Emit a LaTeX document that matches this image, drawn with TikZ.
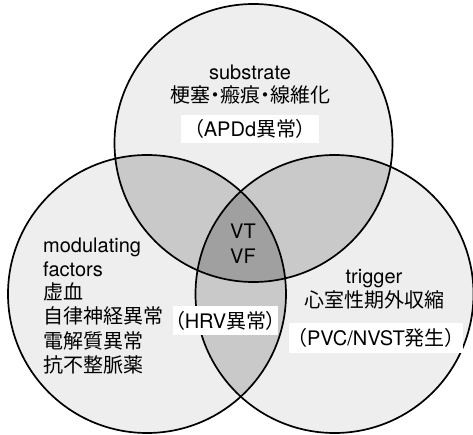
\documentclass[tikz,border=0pt]{standalone}
\usepackage{fontspec}
\setmainfont{TeX Gyre Heros}
\newfontfamily\jp[RawFeature=+palt]{Noto Sans CJK JP}
\definecolor{one}{HTML}{EEEEEE}
\definecolor{two}{HTML}{C9C9C9}
\definecolor{three}{HTML}{A0A0A0}
\begin{document}
\begin{tikzpicture}[x=1pt,y=-1pt,
  txt/.style={inner sep=0pt,font=\fontsize{20}{24.5}\selectfont,anchor=base},
  ltxt/.style={txt,anchor=base west},
  wbox/.style={fill=white,inner sep=0pt,font=\fontsize{20}{24.5}\selectfont},
  ring/.style={draw=black,line width=1.7pt}]
\useasboundingbox (0,0) rectangle (473,435);
\coordinate (cT) at (253.5,143);
\coordinate (cL) at (147,294);
\coordinate (cR) at (334.5,294);
\def\R{139pt}
% single regions
\fill[one] (cT) circle[radius=\R];
\fill[one] (cL) circle[radius=\R];
\fill[one] (cR) circle[radius=\R];
% pairwise
\begin{scope}\clip (cT) circle[radius=\R]; \fill[two] (cL) circle[radius=\R];\end{scope}
\begin{scope}\clip (cT) circle[radius=\R]; \fill[two] (cR) circle[radius=\R];\end{scope}
\begin{scope}\clip (cL) circle[radius=\R]; \fill[two] (cR) circle[radius=\R];\end{scope}
% triple
\begin{scope}\clip (cT) circle[radius=\R]; \clip (cL) circle[radius=\R]; \fill[three] (cR) circle[radius=\R];\end{scope}
% outlines
\draw[ring] (cT) circle[radius=\R];
\draw[ring] (cL) circle[radius=\R];
\draw[ring] (cR) circle[radius=\R];
% substrate
\node[txt] (sub) at (250,79.5) {substrate};
\node[txt] (subj) at (250,102.5) {\jp 梗塞・瘢痕・線維化};
\node[wbox,minimum width=138pt,minimum height=28.5pt] (apd) at (250,129) {{\jp （}APDd{\jp 異常）}};
% center
\node[txt] (vt) at (243,239) {VT};
\node[txt] (vf) at (243,264) {VF};
% modulating
\node[ltxt] (m1) at (43,252) {modulating};
\node[ltxt] (m2) at (43,276.5) {factors};
\node[ltxt] (m3) at (43,299) {\jp 虚血};
\node[ltxt] (m4) at (43,323.5) {\jp 自律神経異常};
\node[ltxt] (m5) at (43,348) {\jp 電解質異常};
\node[ltxt] (m6) at (43,372.5) {\jp 抗不整脈薬};
\node[wbox,minimum width=105pt,minimum height=29pt] (hrv) at (225.5,320.5) {{\jp （}HRV{\jp 異常）}};
% trigger
\node[txt] (tr) at (374,283.3) {trigger};
\node[txt] (trj) at (374.5,307) {\jp 心室性期外収縮};
\node[wbox,minimum width=174pt,minimum height=30.5pt] (pvc) at (376,338) {{\jp （}PVC/NVST{\jp 発生）}};
\end{tikzpicture}
\end{document}
